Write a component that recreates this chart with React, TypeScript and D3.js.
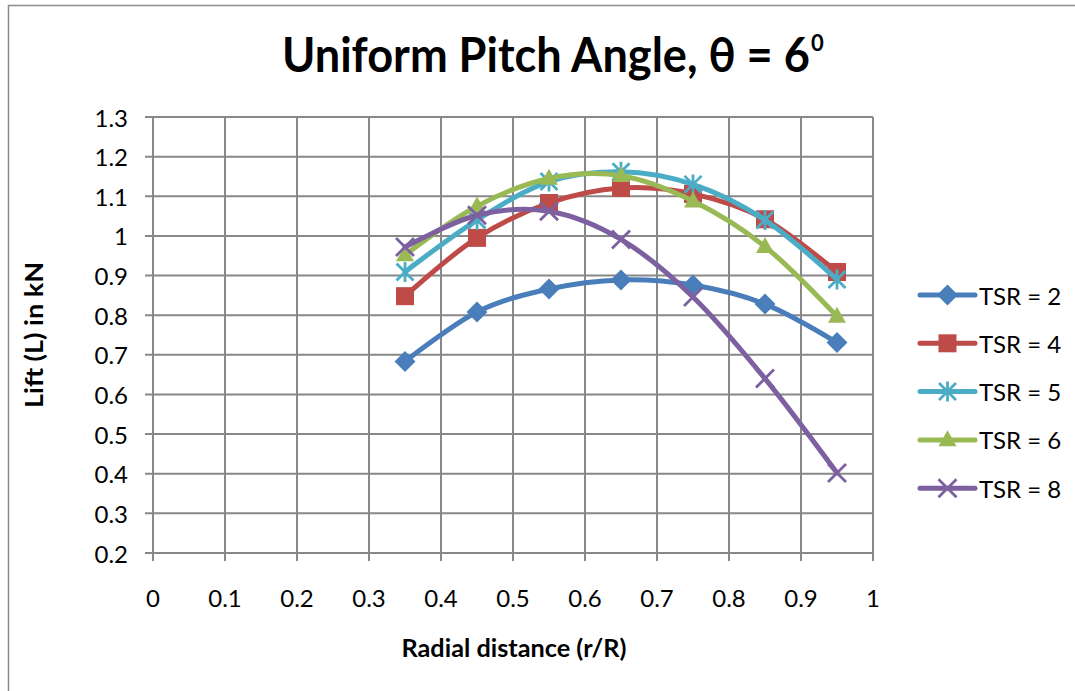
import React, { useLayoutEffect, useRef, useState } from "react";
import * as d3 from "d3";

// Radial positions along the blade (r/R)
const radial = [0.35, 0.45, 0.55, 0.65, 0.75, 0.85, 0.95];

// Lift in kN for each tip speed ratio
const tsr2 = [0.683, 0.808, 0.866, 0.889, 0.876, 0.828, 0.731];
const tsr4 = [0.848, 0.995, 1.083, 1.121, 1.106, 1.042, 0.909];
const tsr5 = [0.909, 1.04, 1.137, 1.162, 1.13, 1.04, 0.89];
const tsr6 = [0.952, 1.075, 1.145, 1.152, 1.088, 0.973, 0.797];
const tsr8 = [0.972, 1.052, 1.062, 0.991, 0.846, 0.64, 0.402];

const seriesNames = ["TSR = 2", "TSR = 4", "TSR = 5", "TSR = 6", "TSR = 8"];
const seriesValues = [tsr2, tsr4, tsr5, tsr6, tsr8];
const seriesColors = ["#4A7EBB", "#BE4B48", "#4BACC6", "#98B954", "#7D60A0"];
const markerKinds = ["diamond", "square", "star", "triangle", "cross"];

const xTicks = [0, 0.1, 0.2, 0.3, 0.4, 0.5, 0.6, 0.7, 0.8, 0.9, 1];
const yTicks = [0.2, 0.3, 0.4, 0.5, 0.6, 0.7, 0.8, 0.9, 1.0, 1.1, 1.2, 1.3];

const W = 1075;
const H = 691;
const plot = { left: 153, right: 873, top: 117, bottom: 553 };

const x = d3.scaleLinear().domain([0, 1]).range([plot.left, plot.right]);
const y = d3.scaleLinear().domain([0.2, 1.3]).range([plot.bottom, plot.top]);

const gridColor = "#888888";
const font = "Lato, 'Open Sans', sans-serif";
const titleWidth = 528;

function Marker({ kind, cx, cy, color }: { kind: string; cx: number; cy: number; color: string }) {
  if (kind === "diamond") {
    const r = 10.5;
    return <path d={`M${cx},${cy - r}L${cx + r},${cy}L${cx},${cy + r}L${cx - r},${cy}Z`} fill={color} />;
  }
  if (kind === "square") {
    const s = 18;
    return <rect x={cx - s / 2} y={cy - s / 2} width={s} height={s} fill={color} />;
  }
  if (kind === "triangle") {
    const w = 18;
    const h = 16;
    return <path d={`M${cx},${cy - h * 0.6}L${cx + w / 2},${cy + h * 0.4}L${cx - w / 2},${cy + h * 0.4}Z`} fill={color} />;
  }
  if (kind === "star") {
    const r = 8.5;
    return (
      <path
        d={`M${cx - r},${cy - r}L${cx + r},${cy + r}M${cx - r},${cy + r}L${cx + r},${cy - r}M${cx},${cy - r - 1.5}L${cx},${cy + r + 1.5}`}
        stroke={color}
        strokeWidth={2.8}
        fill="none"
      />
    );
  }
  const r = 9;
  return (
    <path
      d={`M${cx - r},${cy - r}L${cx + r},${cy + r}M${cx - r},${cy + r}L${cx + r},${cy - r}`}
      stroke={color}
      strokeWidth={2.8}
      fill="none"
    />
  );
}

export default function App() {
  const titleRef = useRef<SVGTextElement>(null);
  const [titleScale, setTitleScale] = useState(1);

  // Fit the title's natural width into the space before the superscript
  useLayoutEffect(() => {
    const el = titleRef.current;
    if (!el) return;
    const w = el.getComputedTextLength();
    if (w > 0) setTitleScale(titleWidth / w);
  }, []);

  const line = d3
    .line<number>()
    .x((_, i) => x(radial[i]))
    .y((v) => y(v))
    .curve(d3.curveCatmullRom.alpha(0));

  const legendX0 = 920;
  const legendX1 = 975;
  const legendY = (i: number) => 295 + i * 48.3;

  return (
    <svg width={W} height={H} style={{ display: "block", position: "absolute", left: 0, top: 0 }}>
      <rect x={0} y={0} width={W} height={H} fill="#ffffff" />
      {/* chart frame */}
      <path d={`M8.5,${H}L8.5,5.5L${W},5.5`} stroke="#8c8c8c" strokeWidth={1.5} fill="none" />

      {/* title with superscript degree digit */}
      <g transform={`translate(282,72) scale(${titleScale},1)`}>
        <text ref={titleRef} x={0} y={0} fontFamily={font} fontWeight={700} fontSize={47} fill="#000">
          Uniform Pitch Angle, θ = 6
        </text>
      </g>
      <text x={811} y={51} fontFamily={font} fontWeight={700} fontSize={22} fill="#000">
        0
      </text>

      {/* grid */}
      <g>
        {xTicks.map((t) => (
          <line key={"gx" + t} x1={x(t)} x2={x(t)} y1={plot.top} y2={plot.bottom + 8} stroke={gridColor} strokeWidth={2} />
        ))}
        {yTicks.map((t) => (
          <line key={"gy" + t} x1={plot.left - 8} x2={plot.right} y1={y(t)} y2={y(t)} stroke={gridColor} strokeWidth={2} />
        ))}
      </g>

      {/* tick labels */}
      <g fontFamily={font} fontSize={24} fill="#000">
        {yTicks.map((t) => (
          <text key={"ly" + t} x={128} y={y(t)} textAnchor="end" dominantBaseline="central">
            {d3.format("~g")(t)}
          </text>
        ))}
        {xTicks.map((t) => (
          <text key={"lx" + t} x={x(t)} y={597} textAnchor="middle" dominantBaseline="central">
            {d3.format("~g")(t)}
          </text>
        ))}
      </g>

      {/* axis titles */}
      <text
        x={514}
        y={657}
        textAnchor="middle"
        fontFamily={font}
        fontWeight={700}
        fontSize={25}
        textLength={225}
        lengthAdjust="spacingAndGlyphs"
      >
        Radial distance (r/R)
      </text>
      <text
        transform={`translate(43,335) rotate(-90)`}
        textAnchor="middle"
        fontFamily={font}
        fontWeight={700}
        fontSize={24}
        textLength={146}
        lengthAdjust="spacingAndGlyphs"
      >
        Lift (L) in kN
      </text>

      {/* series */}
      {seriesValues.map((vals, si) => (
        <g key={seriesNames[si]}>
          <path d={line(vals) || ""} fill="none" stroke={seriesColors[si]} strokeWidth={5} strokeLinecap="round" strokeLinejoin="round" />
          {vals.map((v, i) => (
            <Marker key={i} kind={markerKinds[si]} cx={x(radial[i])} cy={y(v)} color={seriesColors[si]} />
          ))}
        </g>
      ))}

      {/* legend */}
      <g>
        {seriesNames.map((name, i) => (
          <g key={"lg" + name}>
            <line x1={legendX0} x2={legendX1} y1={legendY(i)} y2={legendY(i)} stroke={seriesColors[i]} strokeWidth={5} strokeLinecap="round" />
            <Marker kind={markerKinds[i]} cx={(legendX0 + legendX1) / 2} cy={legendY(i)} color={seriesColors[i]} />
            <text x={979} y={legendY(i)} dominantBaseline="central" fontFamily={font} fontSize={24} fill="#000">
              {name}
            </text>
          </g>
        ))}
      </g>
    </svg>
  );
}
